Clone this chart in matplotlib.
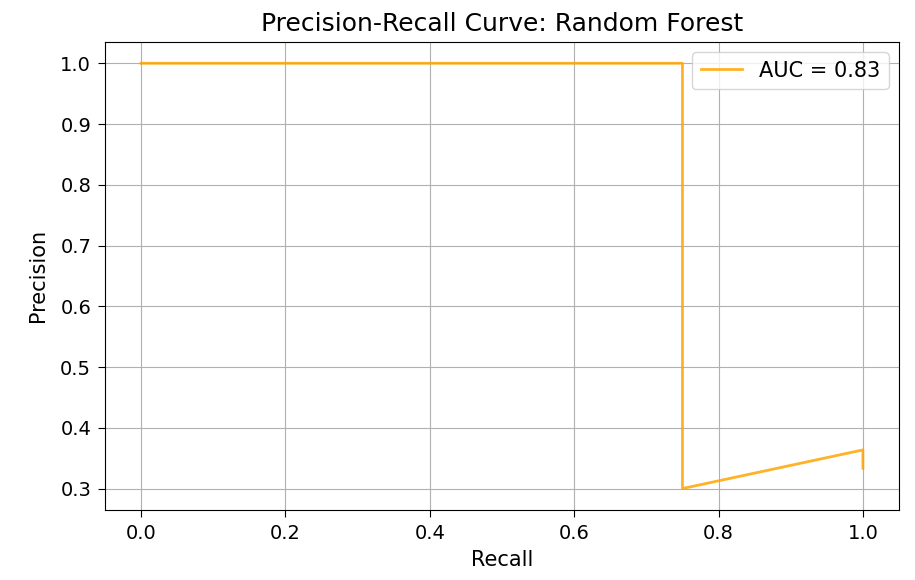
import numpy as np
import matplotlib.pyplot as plt

# precision-recall points as returned by the curve (recall descending)
recall = [1.0, 1.0, 0.75, 0.75, 0.0]
precision = [0.3333, 0.3636, 0.3, 1.0, 1.0]
auc_score = 0.83

fig = plt.figure(figsize=(9.15, 5.8), dpi=100)
ax = fig.add_axes([0.1148, 0.121, 0.8677, 0.8066])
ax.plot(recall, precision, color='orange', lw=2, alpha=0.85, label=f'AUC = {auc_score:.2f}')
ax.set_title('Precision-Recall Curve: Random Forest', fontsize=18, pad=8)
ax.set_xlabel('Recall', fontsize=15, labelpad=5)
ax.set_ylabel('Precision', fontsize=15, labelpad=9)
ax.tick_params(labelsize=14, length=5, pad=5)
ax.grid(True)
ax.legend(fontsize=15, loc='upper right')
fig.savefig('out.png', dpi=100)
